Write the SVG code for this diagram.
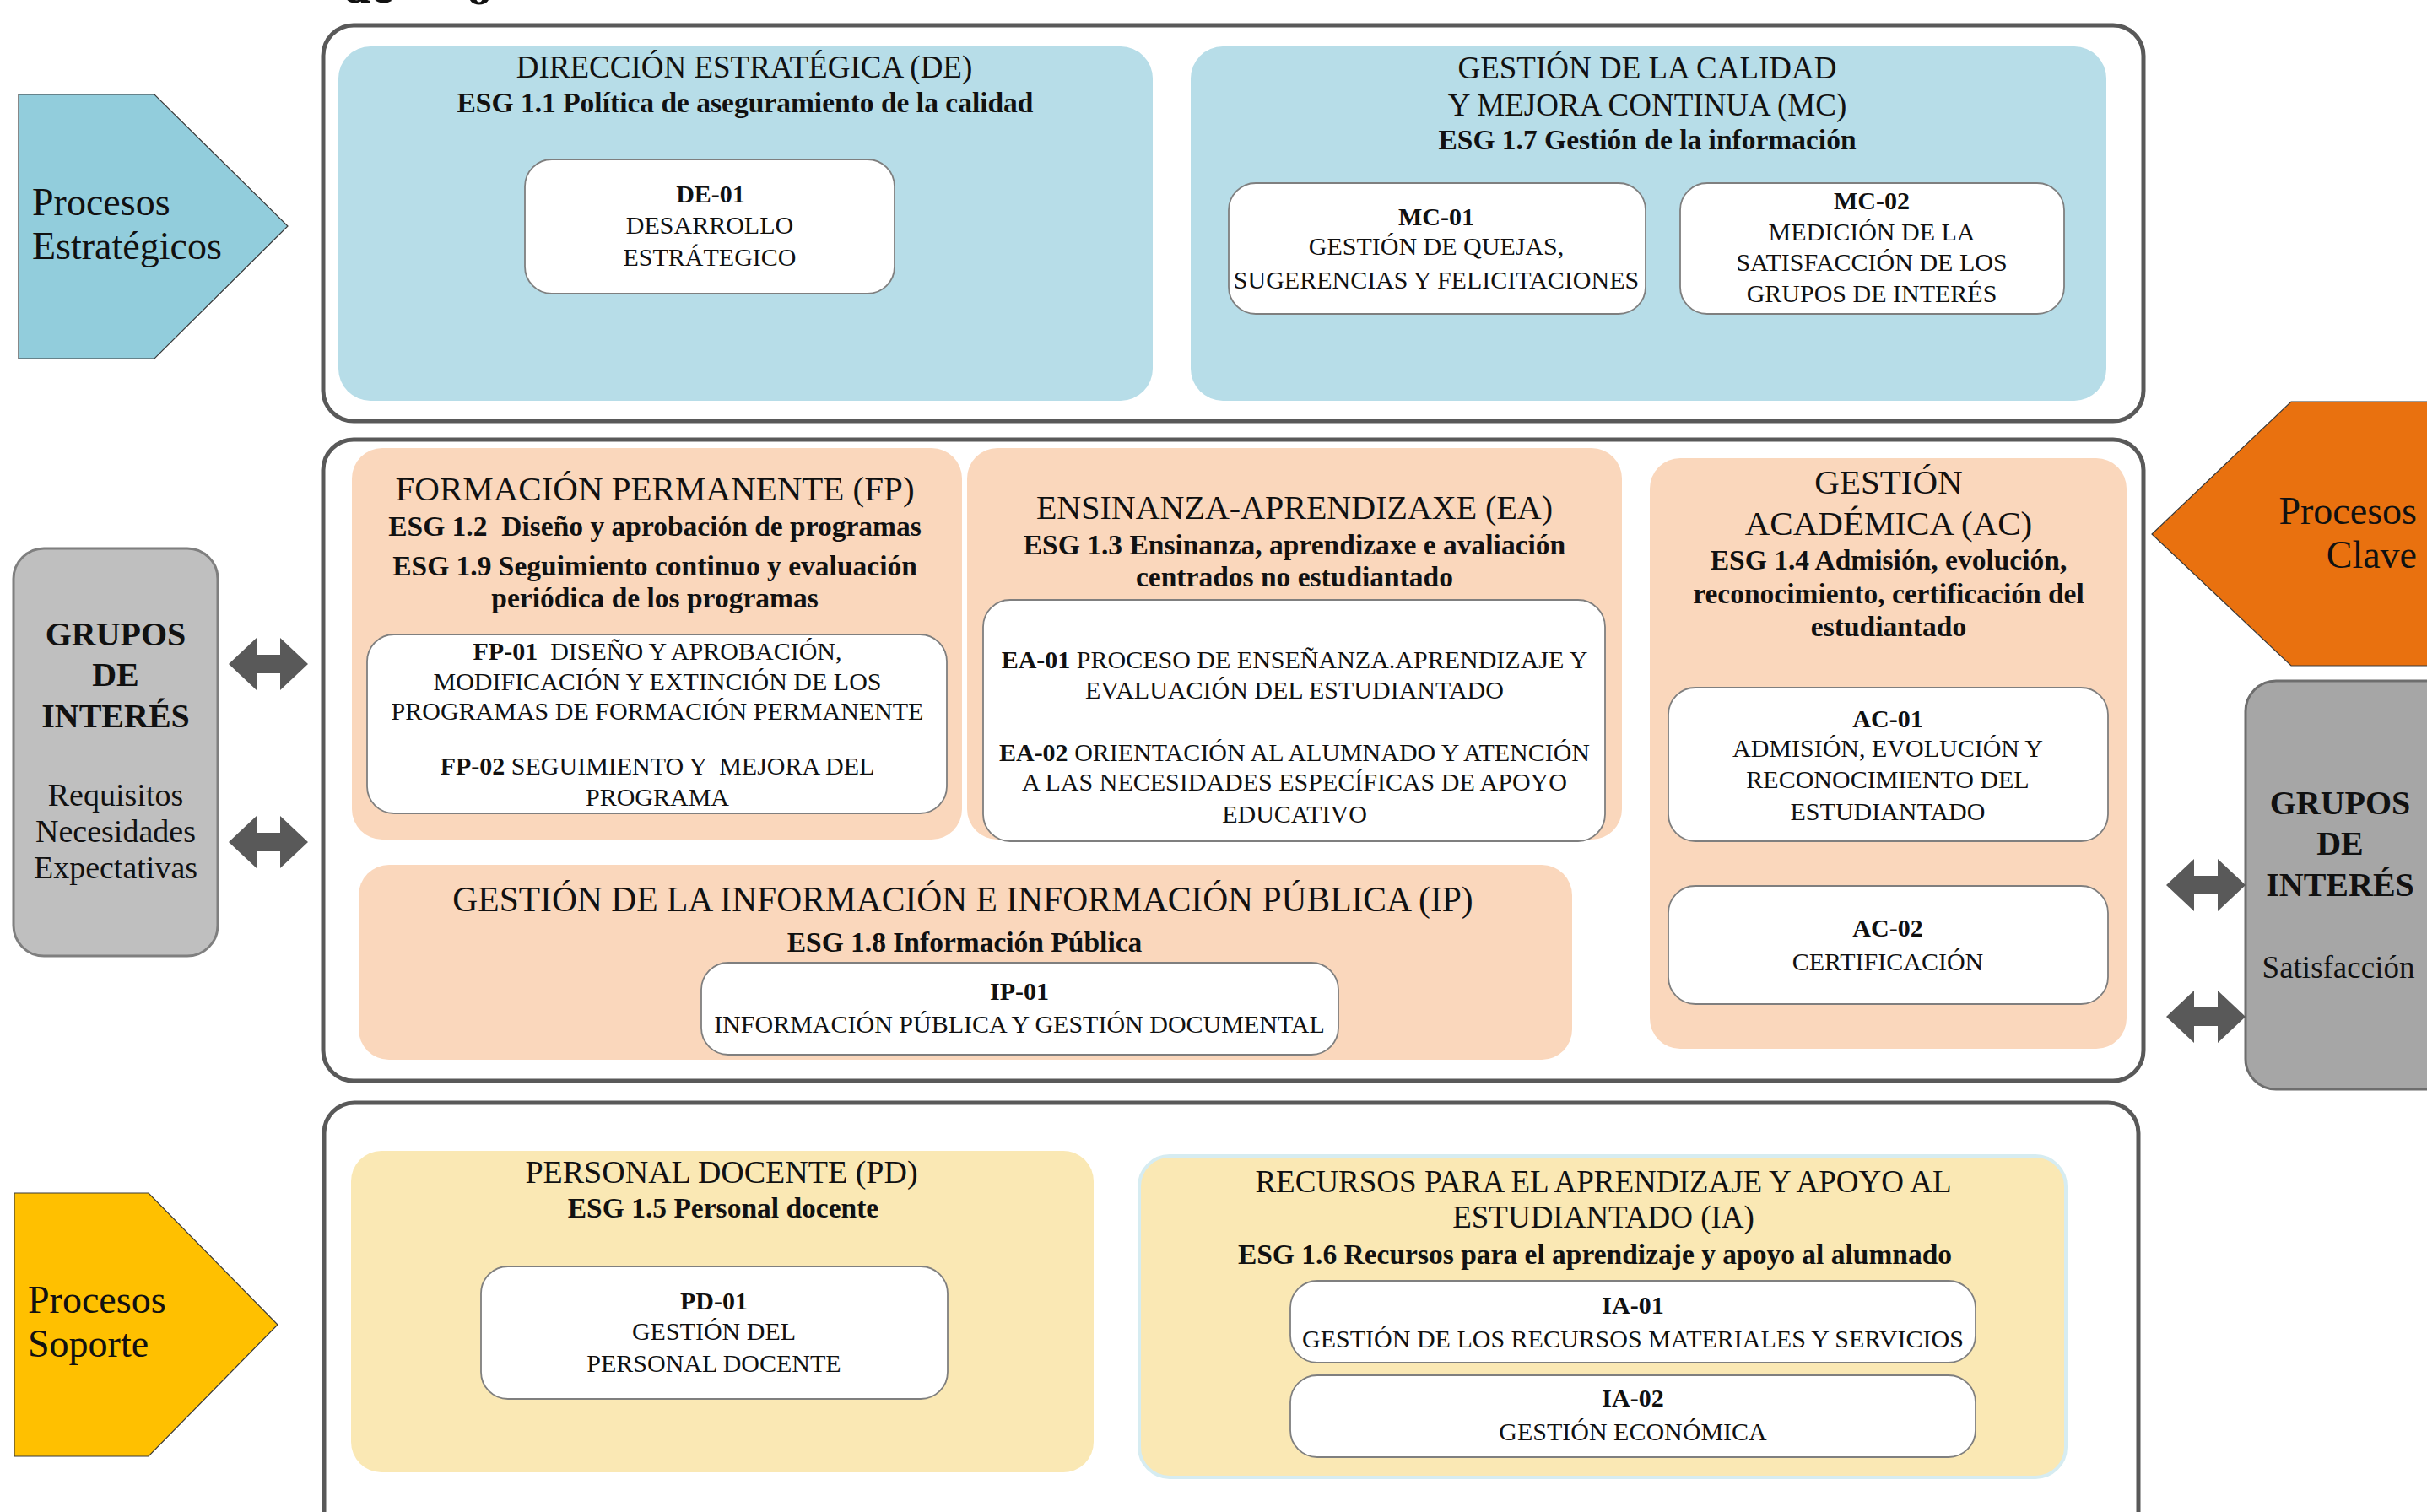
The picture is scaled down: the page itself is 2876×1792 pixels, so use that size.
<svg xmlns="http://www.w3.org/2000/svg" width="2876" height="1792" viewBox="0 0 2876 1792">
<style>
.t{font-family:"Liberation Serif","Times New Roman",serif;fill:#111;text-anchor:middle}
.ttl{font-size:37px}
.big{font-size:41px}
.esg{font-size:33.5px;font-weight:bold}
.code{font-size:30px;font-weight:bold}
.body{font-size:30px}
.side{font-size:46px;text-anchor:start}
.grp{font-size:40px;font-weight:bold}
.grps{font-size:38px}
.outer{fill:#fff;stroke:#595959;stroke-width:5}
.blue{fill:#B7DDE8}
.peach{fill:#FAD7BC}
.yellow{fill:#FAE8B4}
.white{fill:#fff;stroke:#7F7F7F;stroke-width:1.8}
.arr{fill:#595959}
.pre{white-space:pre}
</style>

<g id="title-fragment">
<text class="t" x="406" y="3" style="font-size:60px;font-weight:bold;text-anchor:start">de</text>
<text class="t" x="553" y="5" style="font-size:60px;font-weight:bold;text-anchor:start">o</text>
</g>

<g id="outer-boxes">
<rect id="box-estrategicos" class="outer" x="383" y="30" width="2157" height="469" rx="36"/>
<rect id="box-clave" class="outer" x="383" y="521" width="2157" height="760" rx="36"/>
<rect id="box-soporte" class="outer" x="384" y="1307" width="2150" height="540" rx="36"/>
</g>

<g id="procesos-estrategicos">
<polygon points="22,112 183,112 341,268 183,425 22,425" fill="#92CDDC" stroke="#3a3a3a" stroke-width="1.2"/>
<text class="t side" x="38" y="255">Procesos</text>
<text class="t side" x="38" y="307">Estratégicos</text>
</g>

<g id="procesos-soporte">
<polygon points="17,1414 176,1414 329,1570 176,1726 17,1726" fill="#FFC000" stroke="#3a3a3a" stroke-width="1.2"/>
<text class="t side" x="33" y="1556">Procesos</text>
<text class="t side" x="33" y="1608">Soporte</text>
</g>

<g id="procesos-clave">
<polygon points="2715,476 2900,476 2900,789 2715,789 2550,633" fill="#E9710F" stroke="#3a3a3a" stroke-width="1.2"/>
<text class="t side" x="2864" y="621" style="text-anchor:end">Procesos</text>
<text class="t side" x="2864" y="673" style="text-anchor:end">Clave</text>
</g>

<g id="grupos-interes-izq">
<rect x="16" y="650" width="242" height="483" rx="36" fill="#BFBFBF" stroke="#7F7F7F" stroke-width="3"/>
<text class="t grp" x="137" y="765">GRUPOS</text>
<text class="t grp" x="137" y="813">DE</text>
<text class="t grp" x="137" y="862">INTERÉS</text>
<text class="t grps" x="137" y="955">Requisitos</text>
<text class="t grps" x="137" y="998">Necesidades</text>
<text class="t grps" x="137" y="1041">Expectativas</text>
</g>

<g id="grupos-interes-der">
<rect x="2661" y="807" width="260" height="484" rx="36" fill="#A6A6A6" stroke="#6E6E6E" stroke-width="3"/>
<text class="t grp" x="2773" y="965">GRUPOS</text>
<text class="t grp" x="2773" y="1013">DE</text>
<text class="t grp" x="2773" y="1062">INTERÉS</text>
<text class="t grps" x="2771" y="1159" style="font-size:37px">Satisfacción</text>
</g>

<g id="connectors">
<path class="arr" d="M271,787 L304,756 L304,776 L332,776 L332,756 L365,787 L332,818 L332,798 L304,798 L304,818 Z"/>
<path class="arr" d="M271,998 L304,967 L304,987 L332,987 L332,967 L365,998 L332,1029 L332,1009 L304,1009 L304,1029 Z"/>
<path class="arr" d="M2567,1049 L2600,1018 L2600,1038 L2628,1038 L2628,1018 L2661,1049 L2628,1080 L2628,1060 L2600,1060 L2600,1080 Z"/>
<path class="arr" d="M2567,1205 L2600,1174 L2600,1194 L2628,1194 L2628,1174 L2661,1205 L2628,1236 L2628,1216 L2600,1216 L2600,1236 Z"/>
</g>

<g id="DE">
<rect class="blue" x="401" y="55" width="965" height="420" rx="38"/>
<text class="t ttl" x="882" y="92">DIRECCIÓN ESTRATÉGICA (DE)</text>
<text class="t esg" x="883" y="133">ESG 1.1 Política de aseguramiento de la calidad</text>
</g>
<g id="DE-01">
<rect class="white" x="622" y="189" width="438" height="159" rx="32"/>
<text class="t code" x="842" y="240">DE-01</text>
<text class="t body" x="841" y="277">DESARROLLO</text>
<text class="t body" x="841" y="315">ESTRÁTEGICO</text>
</g>

<g id="MC">
<rect class="blue" x="1411" y="55" width="1085" height="420" rx="38"/>
<text class="t ttl" x="1952" y="93">GESTIÓN DE LA CALIDAD</text>
<text class="t ttl" x="1952" y="137">Y MEJORA CONTINUA (MC)</text>
<text class="t esg" x="1952" y="177">ESG 1.7 Gestión de la información</text>
</g>
<g id="MC-01">
<rect class="white" x="1456" y="217" width="494" height="155" rx="32"/>
<text class="t code" x="1702" y="267">MC-01</text>
<text class="t body" x="1702" y="302">GESTIÓN DE QUEJAS,</text>
<text class="t body" x="1702" y="342">SUGERENCIAS Y FELICITACIONES</text>
</g>
<g id="MC-02">
<rect class="white" x="1991" y="217" width="455" height="155" rx="32"/>
<text class="t code" x="2218" y="248">MC-02</text>
<text class="t body" x="2218" y="285">MEDICIÓN DE LA</text>
<text class="t body" x="2218" y="321">SATISFACCIÓN DE LOS</text>
<text class="t body" x="2218" y="358">GRUPOS DE INTERÉS</text>
</g>

<g id="FP">
<rect class="peach" x="417" y="531" width="723" height="464" rx="36"/>
<text class="t big" x="776" y="593">FORMACIÓN PERMANENTE (FP)</text>
<text class="t esg pre" x="776" y="635">ESG 1.2  Diseño y aprobación de programas</text>
<text class="t esg" x="776" y="682">ESG 1.9 Seguimiento continuo y evaluación</text>
<text class="t esg" x="776" y="720">periódica de los programas</text>
</g>
<g id="FP-01-02">
<rect class="white" x="435" y="752" width="687" height="212" rx="32"/>
<text class="t body pre" x="779" y="782"><tspan class="code">FP-01</tspan>  DISEÑO Y APROBACIÓN,</text>
<text class="t body" x="779" y="818">MODIFICACIÓN Y EXTINCIÓN DE LOS</text>
<text class="t body" x="779" y="853">PROGRAMAS DE FORMACIÓN PERMANENTE</text>
<text class="t body pre" x="779" y="918"><tspan class="code">FP-02</tspan> SEGUIMIENTO Y  MEJORA DEL</text>
<text class="t body" x="779" y="955">PROGRAMA</text>
</g>

<g id="EA">
<rect class="peach" x="1146" y="531" width="776" height="464" rx="36"/>
<text class="t big" x="1534" y="615" style="font-size:40px">ENSINANZA-APRENDIZAXE (EA)</text>
<text class="t esg" x="1534" y="657">ESG 1.3 Ensinanza, aprendizaxe e avaliación</text>
<text class="t esg" x="1534" y="695">centrados no estudiantado</text>
</g>
<g id="EA-01-02">
<rect class="white" x="1165" y="711" width="737" height="286" rx="32"/>
<text class="t body" x="1534" y="792"><tspan class="code">EA-01</tspan> PROCESO DE ENSEÑANZA.APRENDIZAJE Y</text>
<text class="t body" x="1534" y="828">EVALUACIÓN DEL ESTUDIANTADO</text>
<text class="t body" x="1534" y="902"><tspan class="code">EA-02</tspan> ORIENTACIÓN AL ALUMNADO Y ATENCIÓN</text>
<text class="t body" x="1534" y="937">A LAS NECESIDADES ESPECÍFICAS DE APOYO</text>
<text class="t body" x="1534" y="975">EDUCATIVO</text>
</g>

<g id="AC">
<rect class="peach" x="1955" y="543" width="565" height="700" rx="36"/>
<text class="t big" x="2238" y="585">GESTIÓN</text>
<text class="t big" x="2238" y="634">ACADÉMICA (AC)</text>
<text class="t esg" x="2238" y="675">ESG 1.4 Admisión, evolución,</text>
<text class="t esg" x="2238" y="715">reconocimiento, certificación del</text>
<text class="t esg" x="2238" y="754">estudiantado</text>
</g>
<g id="AC-01">
<rect class="white" x="1977" y="815" width="521" height="182" rx="32"/>
<text class="t code" x="2237" y="862">AC-01</text>
<text class="t body" x="2237" y="897">ADMISIÓN, EVOLUCIÓN Y</text>
<text class="t body" x="2237" y="934">RECONOCIMIENTO DEL</text>
<text class="t body" x="2237" y="972">ESTUDIANTADO</text>
</g>
<g id="AC-02">
<rect class="white" x="1977" y="1050" width="521" height="140" rx="32"/>
<text class="t code" x="2237" y="1110">AC-02</text>
<text class="t body" x="2237" y="1150">CERTIFICACIÓN</text>
</g>

<g id="IP">
<rect class="peach" x="425" y="1025" width="1438" height="231" rx="36"/>
<text class="t big" x="1141" y="1080" style="font-size:41.5px">GESTIÓN DE LA INFORMACIÓN E INFORMACIÓN PÚBLICA (IP)</text>
<text class="t esg" x="1143" y="1128">ESG 1.8 Información Pública</text>
</g>
<g id="IP-01">
<rect class="white" x="831" y="1141" width="755" height="109" rx="32"/>
<text class="t code" x="1208" y="1185">IP-01</text>
<text class="t body" x="1208" y="1224">INFORMACIÓN PÚBLICA Y GESTIÓN DOCUMENTAL</text>
</g>

<g id="PD">
<rect class="yellow" x="416" y="1364" width="880" height="381" rx="36"/>
<text class="t ttl" x="855" y="1402" style="font-size:38px">PERSONAL DOCENTE (PD)</text>
<text class="t esg" x="857" y="1443">ESG 1.5 Personal docente</text>
</g>
<g id="PD-01">
<rect class="white" x="570" y="1501" width="553" height="157" rx="32"/>
<text class="t code" x="846" y="1552">PD-01</text>
<text class="t body" x="846" y="1588">GESTIÓN DEL</text>
<text class="t body" x="846" y="1626">PERSONAL DOCENTE</text>
</g>

<g id="IA">
<rect class="yellow" x="1350" y="1370" width="1098" height="381" rx="36" stroke="#D6ECF1" stroke-width="4"/>
<text class="t ttl" x="1900" y="1413">RECURSOS PARA EL APRENDIZAJE Y APOYO AL</text>
<text class="t ttl" x="1900" y="1455">ESTUDIANTADO (IA)</text>
<text class="t esg" x="1890" y="1498">ESG 1.6 Recursos para el aprendizaje y apoyo al alumnado</text>
</g>
<g id="IA-01">
<rect class="white" x="1529" y="1518" width="812" height="97" rx="32"/>
<text class="t code" x="1935" y="1557">IA-01</text>
<text class="t body" x="1935" y="1597">GESTIÓN DE LOS RECURSOS MATERIALES Y SERVICIOS</text>
</g>
<g id="IA-02">
<rect class="white" x="1529" y="1630" width="812" height="97" rx="32"/>
<text class="t code" x="1935" y="1667">IA-02</text>
<text class="t body" x="1935" y="1707">GESTIÓN ECONÓMICA</text>
</g>
</svg>
